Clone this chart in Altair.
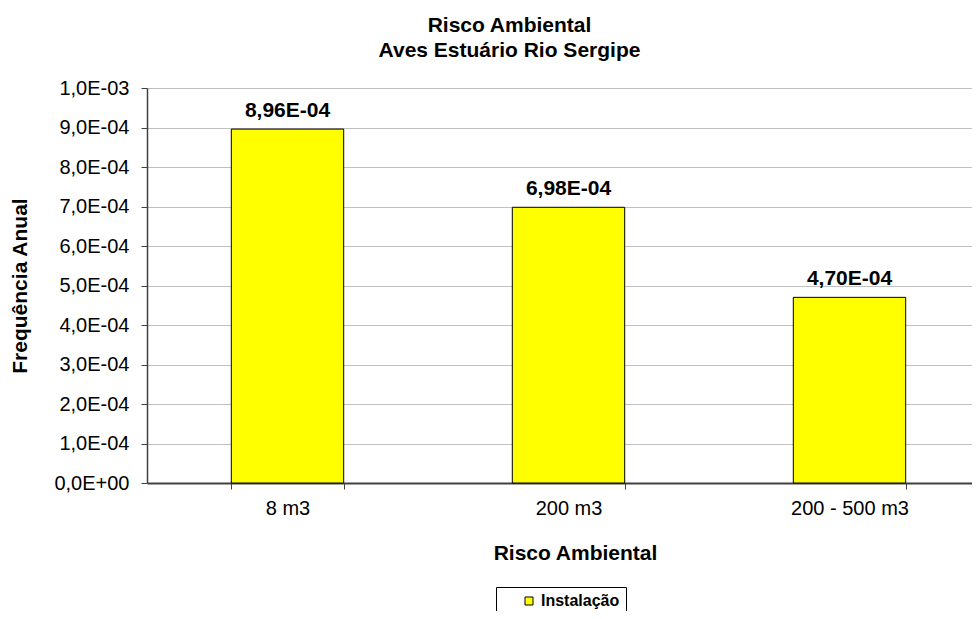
import altair as alt
import pandas as pd

# ---- data ----
categories = ["8 m3", "200 m3", "200 - 500 m3"]
values = [8.96e-4, 6.98e-4, 4.70e-4]
value_labels = ["8,96E-04", "6,98E-04", "4,70E-04"]
series_name = "Instalação"
y_ticks = [0.0, 0.0001, 0.0002, 0.0003, 0.0004, 0.0005, 0.0006, 0.0007, 0.0008, 0.0009, 0.001]
y_tick_labels = ["0,0E+00", "1,0E-04", "2,0E-04", "3,0E-04", "4,0E-04", "5,0E-04",
                 "6,0E-04", "7,0E-04", "8,0E-04", "9,0E-04", "1,0E-03"]
title_lines = ["Risco Ambiental", "Aves Estuário Rio Sergipe"]
x_title = "Risco Ambiental"
y_title = "Frequência Anual"

df = pd.DataFrame({
    "cat": categories,
    "val": values,
    "lab": value_labels,
    "series": [series_name] * len(categories),
})

FONT = "Liberation Sans"
W, H = 825, 395
X_RANGE = 843  # the band scale runs past the visible edge, as in the cropped reference

label_expr = "[" + ",".join("'%s'" % s for s in y_tick_labels) + "][round(datum.value * 10000)]"

x_enc = alt.X(
    "cat:N",
    sort=categories,
    scale=alt.Scale(range=[0, X_RANGE], paddingInner=0.6, paddingOuter=0.3),
    axis=alt.Axis(
        title=x_title,
        labelAngle=0,
        labelFontSize=20,
        labelColor="#000000",
        labelPadding=9,
        tickBand="extent",
        tickSize=6,
        tickColor="#404040",
        domainColor="#404040",
        domainWidth=2,
        titleFontSize=21,
        titleFontWeight="bold",
        titleColor="#000000",
        titleBaseline="alphabetic",
        titleAlign="center",
        titleX=428,
        titleY=76,
        grid=False,
    ),
)

y_enc = alt.Y(
    "val:Q",
    scale=alt.Scale(domain=[0, 0.001], nice=False),
    axis=alt.Axis(
        title=y_title,
        values=y_ticks,
        labelExpr=label_expr,
        labelOverlap=False,
        labelFontSize=20,
        labelColor="#000000",
        labelPadding=12,
        tickSize=6,
        tickColor="#404040",
        domainColor="#404040",
        domainWidth=1.5,
        gridColor="#c0c0c0",
        gridWidth=1,
        titleFontSize=21,
        titleFontWeight="bold",
        titleColor="#000000",
        titleAngle=270,
        titleAlign="center",
        titleBaseline="middle",
        titleX=-127,
        titleY=H / 2,
    ),
)

bars = alt.Chart(df).mark_bar(stroke="#000000", strokeWidth=1).encode(
    x=x_enc,
    y=y_enc,
    color=alt.Color(
        "series:N",
        scale=alt.Scale(range=["#FFFF00"]),
        legend=alt.Legend(
            title=None,
            orient="none",
            legendX=349,
            legendY=499,
            symbolType="square",
            symbolSize=64,
            symbolStrokeColor="#000000",
            symbolStrokeWidth=1,
            symbolOffset=19,
            labelFontSize=16,
            labelFontWeight="bold",
            labelColor="#000000",
            labelOffset=4,
            padding=6,
            strokeColor="#000000",
            fillColor="#ffffff",
        ),
    ),
)

texts = alt.Chart(df).mark_text(
    font=FONT, fontSize=21, fontWeight="bold", baseline="alphabetic", dy=-12, color="#000000"
).encode(
    x=x_enc,
    y=y_enc,
    text="lab:N",
)

chart = (
    alt.layer(bars, texts)
    .properties(
        width=W,
        height=H,
        autosize=alt.AutoSizeParams(type="none"),
        padding={"left": 139, "top": 80, "right": 0, "bottom": 128},
        title=alt.TitleParams(
            text=title_lines,
            fontSize=21,
            fontWeight="bold",
            color="#000000",
            lineHeight=25,
            anchor="middle",
            dx=-50,
            offset=17,
        ),
    )
    .configure(font=FONT)
    .configure_view(stroke=None)
    .configure_axis(labelFont=FONT, titleFont=FONT)
    .configure_legend(labelFont=FONT)
)

chart.save("out.html", embed_options={"renderer": "svg", "actions": False})
